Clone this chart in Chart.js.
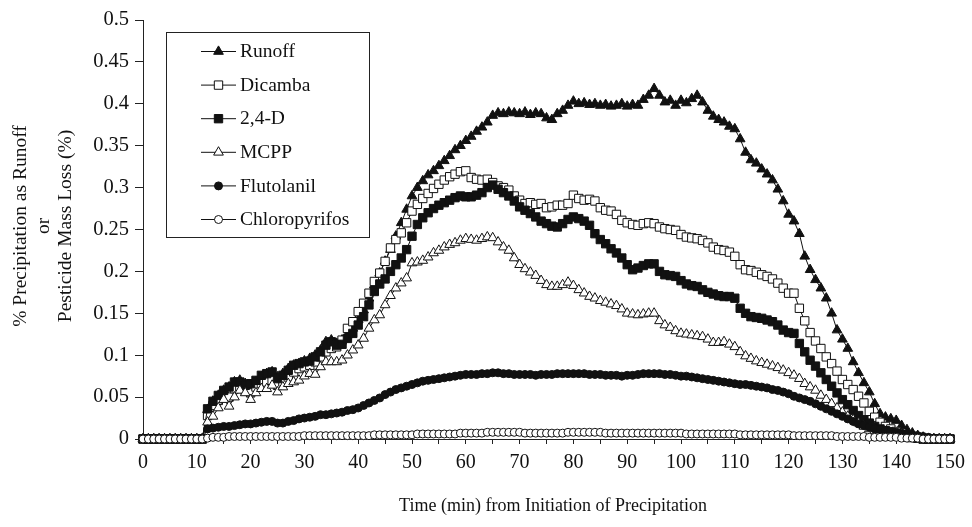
<!DOCTYPE html>
<html>
<head>
<meta charset="utf-8">
<script src="https://cdn.jsdelivr.net/npm/chart.js@4/dist/chart.umd.min.js"></script>
<style>
  html, body { margin: 0; padding: 0; background: #fff; }
  #wrap { width: 972px; height: 527px; position: relative; }
</style>
</head>
<body>
<div id="wrap"><canvas id="c" width="972" height="527"></canvas></div>
<script>
// ---------- DATA ----------
const minutes = [0,1,2,3,4,5,6,7,8,9,10,11,12,13,14,15,16,17,18,19,20,21,22,23,24,25,26,27,28,29,30,31,32,33,34,35,36,37,38,39,40,41,42,43,44,45,46,47,48,49,50,51,52,53,54,55,56,57,58,59,60,61,62,63,64,65,66,67,68,69,70,71,72,73,74,75,76,77,78,79,80,81,82,83,84,85,86,87,88,89,90,91,92,93,94,95,96,97,98,99,100,101,102,103,104,105,106,107,108,109,110,111,112,113,114,115,116,117,118,119,120,121,122,123,124,125,126,127,128,129,130,131,132,133,134,135,136,137,138,139,140,141,142,143,144,145,146,147,148,149,150];

const runoff = [0,0,0,0,0,0,0,0,0,0,0,0,
 0.035,0.045,0.052,0.058,0.062,0.068,0.070,0.066,0.064,0.068,0.074,0.078,0.080,0.074,0.078,0.084,0.088,0.090,
 0.093,0.096,0.100,0.106,0.116,0.118,0.114,0.118,0.124,0.132,
 0.142,0.154,0.168,0.184,0.198,0.212,0.226,0.242,0.258,0.274,
 0.290,0.300,0.308,0.315,0.320,0.326,0.332,0.338,0.345,0.350,
 0.356,0.361,0.367,0.372,0.378,0.386,0.389,0.388,0.390,0.389,
 0.388,0.390,0.387,0.389,0.388,0.383,0.381,0.388,0.392,0.398,
 0.403,0.400,0.401,0.399,0.400,0.398,0.399,0.397,0.398,0.400,
 0.397,0.399,0.398,0.405,0.410,0.418,0.410,0.402,0.404,0.398,
 0.404,0.401,0.406,0.410,0.402,0.392,0.385,0.381,0.378,0.373,
 0.370,0.358,0.342,0.333,0.329,0.322,0.316,0.309,0.298,0.284,
 0.268,0.260,0.245,0.218,0.202,0.190,0.180,0.168,0.150,0.130,
 0.119,0.108,0.092,0.079,0.067,0.056,0.042,0.030,0.026,0.024,
 0.022,0.016,0.011,0.007,0.004,0.002,0,0,0,0,0];

const dicamba = [0,0,0,0,0,0,0,0,0,0,0,0,
 0.028,0.040,0.046,0.052,0.050,0.060,0.062,0.058,0.055,0.062,0.066,0.068,0.070,0.064,0.068,0.074,0.080,0.084,
 0.086,0.088,0.092,0.098,0.104,0.108,0.110,0.118,0.132,0.140,
 0.152,0.162,0.174,0.188,0.198,0.212,0.228,0.238,0.246,0.258,
 0.272,0.280,0.287,0.293,0.299,0.304,0.309,0.313,0.316,0.319,
 0.320,0.312,0.310,0.309,0.310,0.306,0.302,0.300,0.297,0.290,
 0.285,0.281,0.282,0.280,0.281,0.276,0.277,0.279,0.279,0.281,
 0.291,0.287,0.285,0.286,0.284,0.276,0.273,0.272,0.268,0.261,
 0.258,0.256,0.255,0.257,0.258,0.257,0.253,0.251,0.250,0.249,
 0.244,0.241,0.240,0.239,0.237,0.234,0.229,0.226,0.225,0.223,
 0.218,0.208,0.202,0.201,0.199,0.196,0.194,0.191,0.186,0.180,
 0.174,0.174,0.156,0.141,0.127,0.117,0.108,0.098,0.090,0.081,
 0.071,0.065,0.059,0.051,0.043,0.033,0.026,0.020,0.015,0.012,
 0.009,0.007,0.005,0.003,0.001,0,0,0,0,0,0];

const d24 = [0,0,0,0,0,0,0,0,0,0,0,0,
 0.036,0.045,0.052,0.058,0.062,0.068,0.068,0.064,0.066,0.070,0.076,0.078,0.080,0.072,0.076,0.082,0.088,0.090,
 0.092,0.093,0.098,0.104,0.112,0.116,0.112,0.113,0.120,0.126,
 0.136,0.146,0.160,0.176,0.185,0.191,0.200,0.208,0.216,0.226,
 0.242,0.256,0.264,0.270,0.275,0.279,0.282,0.285,0.288,0.290,
 0.289,0.289,0.291,0.294,0.300,0.303,0.298,0.294,0.290,0.284,
 0.277,0.273,0.269,0.265,0.260,0.257,0.254,0.253,0.257,0.262,
 0.265,0.263,0.260,0.255,0.245,0.238,0.233,0.227,0.222,0.216,
 0.208,0.202,0.204,0.207,0.209,0.209,0.200,0.196,0.195,0.194,
 0.189,0.185,0.183,0.182,0.178,0.175,0.173,0.171,0.170,0.170,
 0.168,0.156,0.150,0.146,0.145,0.144,0.142,0.140,0.136,0.130,
 0.127,0.126,0.114,0.104,0.094,0.087,0.079,0.071,0.063,0.055,
 0.047,0.041,0.034,0.028,0.023,0.019,0.015,0.012,0.010,0.008,
 0.006,0.004,0.003,0.002,0.001,0,0,0,0,0,0];

const mcpp = [0,0,0,0,0,0,0,0,0,0,0,0,
 0.020,0.027,0.037,0.047,0.039,0.050,0.058,0.055,0.047,0.055,0.060,0.060,0.064,0.056,0.062,0.066,0.068,0.070,
 0.075,0.078,0.077,0.086,0.092,0.092,0.092,0.094,0.100,0.106,
 0.112,0.120,0.132,0.142,0.148,0.160,0.171,0.180,0.186,0.192,
 0.210,0.211,0.213,0.217,0.222,0.225,0.229,0.232,0.234,0.237,
 0.239,0.238,0.237,0.239,0.241,0.240,0.235,0.229,0.225,0.216,
 0.208,0.203,0.199,0.195,0.189,0.184,0.182,0.182,0.184,0.187,
 0.183,0.178,0.174,0.170,0.168,0.165,0.163,0.161,0.159,0.155,
 0.150,0.149,0.148,0.149,0.150,0.150,0.141,0.136,0.133,0.129,
 0.126,0.125,0.124,0.123,0.122,0.119,0.115,0.115,0.116,0.113,
 0.110,0.104,0.099,0.096,0.093,0.091,0.089,0.087,0.085,0.082,
 0.079,0.076,0.072,0.066,0.062,0.058,0.052,0.047,0.042,0.037,
 0.032,0.027,0.023,0.019,0.015,0.012,0.010,0.008,0.006,0.004,
 0.003,0.002,0.001,0,0,0,0,0,0,0,0];

const flutolanil = [0,0,0,0,0,0,0,0,0,0,0,0,
 0.012,0.013,0.014,0.015,0.015,0.016,0.017,0.018,0.018,0.019,0.020,0.021,0.021,0.019,0.019,0.021,0.022,0.024,
 0.025,0.026,0.027,0.029,0.029,0.030,0.031,0.032,0.034,0.035,
 0.037,0.040,0.043,0.046,0.049,0.053,0.056,0.059,0.061,0.063,
 0.065,0.067,0.069,0.070,0.071,0.072,0.073,0.074,0.075,0.076,
 0.077,0.077,0.077,0.078,0.078,0.079,0.079,0.078,0.078,0.077,
 0.077,0.077,0.077,0.076,0.077,0.077,0.077,0.078,0.078,0.078,
 0.078,0.078,0.078,0.077,0.077,0.077,0.076,0.076,0.076,0.075,
 0.076,0.076,0.077,0.078,0.078,0.078,0.078,0.077,0.077,0.076,
 0.075,0.075,0.074,0.073,0.072,0.071,0.070,0.069,0.068,0.067,
 0.066,0.065,0.065,0.064,0.063,0.062,0.061,0.059,0.058,0.056,
 0.054,0.051,0.049,0.047,0.045,0.042,0.039,0.036,0.033,0.030,
 0.027,0.024,0.021,0.018,0.016,0.014,0.012,0.011,0.010,0.009,
 0.008,0.007,0.006,0.005,0.004,0.003,0.002,0.001,0,0,0];

const chloropyrifos = [0,0,0,0,0,0,0,0,0,0,0,0,
 0.001,0.002,0.002,0.002,0.003,0.003,0.003,0.003,0.003,0.003,0.003,0.003,0.003,0.003,0.003,0.003,0.003,0.003,
 0.004,0.004,0.004,0.004,0.004,0.004,0.004,0.004,0.004,0.004,
 0.004,0.004,0.004,0.005,0.005,0.005,0.005,0.005,0.005,0.005,
 0.005,0.006,0.006,0.006,0.006,0.006,0.006,0.006,0.006,0.007,
 0.007,0.007,0.007,0.007,0.008,0.008,0.008,0.008,0.008,0.008,
 0.008,0.007,0.007,0.007,0.007,0.007,0.007,0.007,0.007,0.008,
 0.008,0.008,0.008,0.008,0.008,0.008,0.007,0.007,0.007,0.007,
 0.007,0.007,0.007,0.007,0.007,0.007,0.007,0.007,0.007,0.007,
 0.007,0.006,0.006,0.006,0.006,0.006,0.006,0.006,0.006,0.006,
 0.006,0.005,0.005,0.005,0.005,0.005,0.005,0.005,0.005,0.005,
 0.005,0.004,0.004,0.004,0.004,0.004,0.004,0.004,0.004,0.003,
 0.003,0.003,0.003,0.003,0.003,0.002,0.002,0.002,0.002,0.002,
 0.002,0.001,0.001,0.001,0.001,0,0,0,0,0,0];

const seriesNames = ['Runoff','Dicamba','2,4-D','MCPP','Flutolanil','Chloropyrifos'];
const xTickPositions = [0,5,10,15,20,25,30,35,40,45,50,55,60,65,70,75,80,85,90,95,100,105,110,115,120,125,130,135,140,145,150];
const xTickLabels = [0,10,20,30,40,50,60,70,80,90,100,110,120,130,140,150];
const yTickValues = [0,0.05,0.1,0.15,0.2,0.25,0.3,0.35,0.4,0.45,0.5];
const yTitleLines = ['% Precipitation as Runoff','or','Pesticide Mass Loss (%)'];
const xTitle = 'Time (min) from Initiation of Precipitation';

// ---------- STYLES ----------
const FONT = '"Liberation Serif", "Times New Roman", serif';
const styles = [
  {pointStyle:'triangle', radius:5.6, fill:'#111'},
  {pointStyle:'rect', radius:5.9, fill:'#fff'},
  {pointStyle:'rect', radius:5.9, fill:'#111'},
  {pointStyle:'triangle', radius:5.6, fill:'#fff'},
  {pointStyle:'circle', radius:4.0, fill:'#111'},
  {pointStyle:'circle', radius:4.0, fill:'#fff'}
];
const allSeries = [runoff, dicamba, d24, mcpp, flutolanil, chloropyrifos];

const datasets = allSeries.map((arr, k) => ({
  label: seriesNames[k],
  data: minutes.map((m, i) => ({x: m, y: arr[i]})),
  borderColor: '#111',
  borderWidth: 1,
  backgroundColor: styles[k].fill,
  pointStyle: styles[k].pointStyle,
  pointRadius: styles[k].radius,
  pointBackgroundColor: styles[k].fill,
  pointBorderColor: '#111',
  pointBorderWidth: 1,
  tension: 0,
  fill: false,
  clip: false,
  order: allSeries.length - 1 - k
}));

// ---------- PLUGINS ----------
function drawMarker(ctx, style, x, y) {
  const r = style.radius;
  ctx.save();
  ctx.fillStyle = style.fill;
  ctx.strokeStyle = '#111';
  ctx.lineWidth = 1;
  ctx.beginPath();
  if (style.pointStyle === 'triangle') {
    for (let j = 0; j < 3; j++) {
      const a = -Math.PI / 2 + j * 2 * Math.PI / 3;
      const px = x + Math.cos(a) * r, py = y + Math.sin(a) * r;
      if (j === 0) ctx.moveTo(px, py); else ctx.lineTo(px, py);
    }
    ctx.closePath();
  } else if (style.pointStyle === 'rect') {
    const s = Math.SQRT1_2 * r;
    ctx.rect(x - s, y - s, 2 * s, 2 * s);
  } else {
    ctx.arc(x, y, r, 0, Math.PI * 2);
  }
  ctx.fill();
  ctx.stroke();
  ctx.restore();
}

const extras = {
  id: 'extras',
  afterDraw(chart) {
    const ctx = chart.ctx;
    // legend box
    const bx = 166, by = 32, bw = 203, bh = 205;
    ctx.save();
    ctx.fillStyle = '#fff';
    ctx.fillRect(bx, by, bw, bh);
    ctx.strokeStyle = '#222';
    ctx.lineWidth = 1;
    ctx.strokeRect(bx + 0.5, by + 0.5, bw, bh);
    ctx.font = '19.5px ' + FONT;
    ctx.textBaseline = 'middle';
    ctx.textAlign = 'left';
    seriesNames.forEach((name, k) => {
      const yy = 51 + k * 33.6;
      ctx.strokeStyle = '#111';
      ctx.lineWidth = 1;
      ctx.beginPath();
      ctx.moveTo(201, yy + 0.5);
      ctx.lineTo(236, yy + 0.5);
      ctx.stroke();
      drawMarker(ctx, styles[k], 218.5, yy + 0.5);
      ctx.fillStyle = '#111';
      ctx.fillText(name, 240, yy + 1);
    });
    // y title
    ctx.font = '19.5px ' + FONT;
    ctx.fillStyle = '#111';
    ctx.textAlign = 'center';
    ctx.textBaseline = 'middle';
    yTitleLines.forEach((line, i) => {
      ctx.save();
      ctx.translate(21 + i * 22.5, 226);
      ctx.rotate(-Math.PI / 2);
      ctx.fillText(line, 0, 0);
      ctx.restore();
    });
    // x title
    ctx.font = '18px ' + FONT;
    ctx.fillText(xTitle, 553, 506);
    ctx.restore();
  }
};

// ---------- CHART ----------
new Chart(document.getElementById('c'), {
  type: 'line',
  data: { datasets },
  options: {
    responsive: false,
    animation: false,
    devicePixelRatio: 1,
    layout: { padding: { top: 20, right: 15, left: 0, bottom: 0 } },
    plugins: { legend: { display: false }, tooltip: { enabled: false } },
    scales: {
      x: {
        type: 'linear',
        min: 0, max: 150,
        afterFit(scale) { scale.height = 88; },
        afterBuildTicks(scale) { scale.ticks = xTickPositions.map(v => ({value: v})); },
        grid: { display: true, drawOnChartArea: false, drawTicks: true, tickLength: 5, color: '#222', lineWidth: 1 },
        border: { display: true, color: '#222', width: 1 },
        ticks: {
          autoSkip: false, maxRotation: 0, padding: 7,
          color: '#111',
          font: { family: FONT, size: 20 },
          callback: (v) => xTickLabels.includes(v) ? String(v) : ''
        }
      },
      y: {
        type: 'linear',
        min: 0, max: 0.5,
        afterFit(scale) { scale.width = 143; },
        afterBuildTicks(scale) { scale.ticks = yTickValues.map(v => ({value: v})); },
        grid: { display: true, drawOnChartArea: false, drawTicks: true, tickLength: 8, color: '#222', lineWidth: 1 },
        border: { display: true, color: '#222', width: 1 },
        ticks: {
          autoSkip: false, padding: 6,
          color: '#111',
          font: { family: FONT, size: 20.5 },
          callback: (v) => String(Number(v.toFixed(2)))
        }
      }
    }
  },
  plugins: [extras]
});
</script>
</body>
</html>
